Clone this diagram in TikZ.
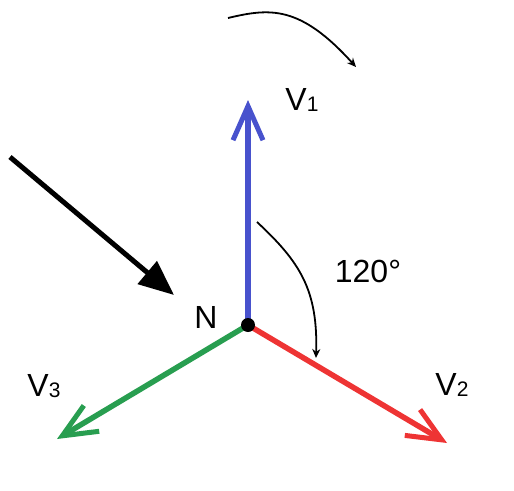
\documentclass[tikz,border=0pt]{standalone}
\usepackage{fontspec}
\setmainfont{Liberation Sans}
\usetikzlibrary{arrows.meta}
\definecolor{vblue}{RGB}{72,82,205}
\definecolor{vred}{RGB}{238,52,52}
\definecolor{vgreen}{RGB}{40,158,80}
\newcommand{\lab}[2]{#1\raisebox{-1pt}{\fontsize{21}{21}\selectfont #2}}
\begin{document}
\begin{tikzpicture}[x=1pt,y=-1pt,
  vec/.style={line width=5.5pt,-{Straight Barb[length=34pt,width=30pt,line width=5pt]}},
  thin/.style={line width=1.8pt,-{Stealth[length=9pt,width=8pt]}},
  lbl/.style={font=\fontsize{32}{32}\selectfont,inner sep=0pt}]
\useasboundingbox (0,0) rectangle (514,490);
\coordinate (N) at (248,325);
\coordinate (v1) at (248,100);
\coordinate (v2) at (447,443);
\coordinate (v3) at (57,439);
\coordinate (b0) at (10,157);
\coordinate (b1) at (174,295);
\coordinate (t0) at (228,18);
\coordinate (t1) at (356,67);
\coordinate (a0) at (257,222);
\coordinate (a1) at (316,358);
\draw[vec,vblue] (N) -- (v1);
\draw[vec,vred] (N) -- (v2);
\draw[vec,vgreen] (N) -- (v3);
\fill (N) circle (7pt);
\draw[line width=5pt,-{Triangle[length=35pt,width=29pt]}] (b0) -- (b1);
\draw[thin] (t0) .. controls (270,8) and (300,5) .. (t1);
\draw[thin] (a0) .. controls (300,262) and (318,290) .. (a1);
\node[lbl] (L1) at (302,100) {\lab{V}{1}};
\node[lbl] (L2) at (452,385) {\lab{V}{2}};
\node[lbl] (L3) at (44,386) {\lab{V}{3}};
\node[lbl] (LN) at (206,317) {N};
\node[lbl] (La) at (368,271) {120°};
\end{tikzpicture}
\end{document}
